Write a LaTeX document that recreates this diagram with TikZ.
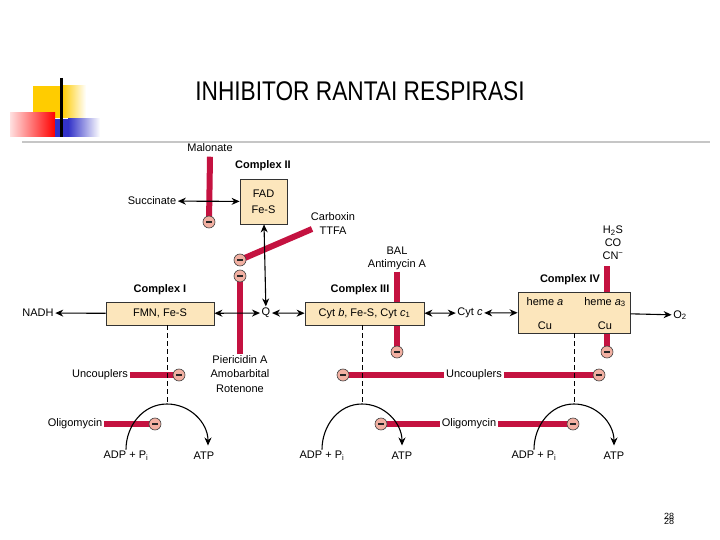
\documentclass[tikz,border=0pt]{standalone}
\usepackage{fontspec}
\setmainfont{Liberation Sans}
\usetikzlibrary{arrows.meta,backgrounds}
\definecolor{barred}{RGB}{196,18,64}
\definecolor{boxtan}{RGB}{252,230,188}
\definecolor{inhpink}{RGB}{242,176,162}
\definecolor{decoyellow}{RGB}{255,204,0}
\definecolor{decoblue}{RGB}{50,50,200}

\begin{document}
\begin{tikzpicture}[x=1pt,y=-1pt,
    every node/.style={font=\fontsize{11}{14}\selectfont},
    txt/.style={inner sep=1.5pt, align=center},
    lbl/.style={font=\fontsize{11}{14}\selectfont\bfseries, inner sep=1pt},
    cbox/.style={draw=black!80, fill=boxtan, line width=0.8pt, inner sep=0pt, align=center},
    redbar/.style={barred, line width=6pt},
    inhib/.style={circle, draw=black!75, fill=inhpink, line width=0.6pt, minimum size=12pt, inner sep=0pt,
        path picture={\draw[line width=1.3pt, black!85] ([xshift=-3pt]path picture bounding box.center) -- ([xshift=3pt]path picture bounding box.center);}},
    link/.style={line width=1.1pt},
    >={Stealth[length=8pt,width=7pt]}]
    \useasboundingbox (0,0) rectangle (720,540);

    % slide decoration
    \fill[decoyellow] (33,86) rectangle (62,118);
    \shade[left color=decoyellow, right color=white] (62,86) rectangle (86,118);
    \shade[left color=red!12, right color=red] (10,113) rectangle (55,137);
    \fill[decoblue] (55,119) rectangle (68,137);
    \shade[left color=decoblue, right color=white] (68,119) rectangle (100,137);
    \draw[line width=3pt] (61,78) -- (61,137);
    \draw[gray!45, line width=2pt] (22,142) -- (710,142);
    \node[font=\fontsize{27}{30}\selectfont] (title) at (360,91) {\scalebox{0.84}[1]{INHIBITOR RANTAI RESPIRASI}};

    % complexes
    \node[cbox, minimum width=47, minimum height=45, font=\fontsize{11}{16}\selectfont] (c2) at (263.5,201.5) {FAD\\Fe-S};
    \node[lbl] (c2lbl) at (263,166) {Complex II};
    \node[cbox, minimum width=108, minimum height=23] (c1) at (160,313.5) {FMN, Fe-S};
    \node[lbl] (c1lbl) at (160,290) {Complex I};
    \node[cbox, minimum width=119, minimum height=23] (c3) at (364.5,313.5) {Cyt \textit{b}, Fe-S, Cyt \textit{c}\textsubscript{1}};
    \node[lbl] (c3lbl) at (360,290) {Complex III};
    \node[cbox, minimum width=112, minimum height=41] (c4) at (574,312.5) {};
    \node[lbl] (c4lbl) at (570,280) {Complex IV};
    \node[txt] (hemea) at (545,302) {heme \textit{a}};
    \node[txt] (hemea3) at (605,302) {heme \textit{a}\textsubscript{3}};
    \node[txt] (cua) at (545,326) {Cu};
    \node[txt] (cub) at (605,326) {Cu};

    % carriers and substrates
    \node[txt] (succ) at (152,201) {Succinate};
    \node[txt] (nadh) at (38,313) {NADH};
    \node[txt] (q) at (266,313) {Q};
    \node[txt] (cytc) at (470,313) {Cyt \textit{c}};
    \node[txt] (o2) at (680,315) {O\textsubscript{2}};
    \draw[link,<->] (succ) -- (c2);
    \draw[link,->] (c1) -- (nadh);
    \draw[link,<->] (c1) -- (q);
    \draw[link,<->] (c2) -- (q);
    \draw[link,<->] (q) -- (c3);
    \draw[link,<->] (c3) -- (cytc);
    \draw[link,<->] (cytc) -- (c4);
    \draw[link,->] (c4) -- (o2);

    % inhibitors
    \node[txt] (malo) at (210,148) {Malonate};
    \node[inhib] (maloI) at (209,222) {};
    \node[txt, font=\fontsize{11}{14}\selectfont] (carb) at (333,224) {Carboxin\\TTFA};
    \coordinate (carbEnd) at (312,229);
    \node[inhib] (carbI) at (240,260) {};
    \node[inhib] (pierI) at (240,276) {};
    \node[txt, font=\fontsize{11}{14.5}\selectfont] (pier) at (240,374) {Piericidin A\\Amobarbital\\Rotenone};
    \node[txt, font=\fontsize{11}{13}\selectfont] (bal) at (397,258.5) {BAL\\Antimycin A};
    \node[inhib] (balI) at (397,352) {};
    \node[txt, font=\fontsize{11}{13}\selectfont] (cyan) at (613,243) {H\textsubscript{2}S\\CO\\CN\textsuperscript{−}};
    \coordinate (cyanEnd) at (607,266);
    \node[inhib] (cyanI) at (607,352) {};

    \node[txt] (unc1) at (100,375) {Uncouplers};
    \node[inhib] (unc1I) at (179,375) {};
    \node[txt] (unc2) at (474,375) {Uncouplers};
    \node[inhib] (unc2a) at (343,375) {};
    \node[inhib] (unc2b) at (599,375) {};
    \node[txt] (oli1) at (75,424) {Oligomycin};
    \node[inhib] (oli1I) at (155,424) {};
    \node[txt] (oli2) at (469,424) {Oligomycin};
    \node[inhib] (oli2a) at (381,424) {};
    \node[inhib] (oli2b) at (573,424) {};

    \begin{scope}[on background layer]
        \draw[redbar] ([yshift=-3pt]malo.south) -- (maloI.center);
        \draw[redbar] (carbEnd) -- (carbI.center);
        \draw[redbar] (pierI.center) -- (pier);
        \draw[redbar] (bal) -- (balI.center);
        \draw[redbar] (cyanEnd) -- (cyanI.center);
        \draw[redbar] (unc1) -- (unc1I.center);
        \draw[redbar] (unc2a.center) -- (unc2);
        \draw[redbar] (unc2) -- (unc2b.center);
        \draw[redbar] (oli1) -- (oli1I.center);
        \draw[redbar] (oli2a.center) -- (oli2);
        \draw[redbar] (oli2) -- (oli2b.center);
    \end{scope}

    % coupling sites
    \coordinate (d1) at (167,404);
    \coordinate (d2) at (362,404);
    \coordinate (d3) at (574,404);
    \draw[dashed, dash pattern=on 5pt off 3pt, line width=0.9pt] (c1.south -| d1) -- (d1);
    \draw[dashed, dash pattern=on 5pt off 3pt, line width=0.9pt] (c3.south -| d2) -- (d2);
    \draw[dashed, dash pattern=on 5pt off 3pt, line width=0.9pt] (c4.south -| d3) -- (d3);

    \node[txt] (adp1) at (126,456) {ADP + P\textsubscript{i}};
    \node[txt] (atp1) at (204,456) {ATP};
    \node[txt] (adp2) at (322,456) {ADP + P\textsubscript{i}};
    \node[txt] (atp2) at (402,456) {ATP};
    \node[txt] (adp3) at (534,456) {ADP + P\textsubscript{i}};
    \node[txt] (atp3) at (614,456) {ATP};
    \draw[link,->] (adp1.north) to[out=90,in=180] (d1) to[out=0,in=90] ([xshift=4pt,yshift=5pt]atp1.north);
    \draw[link,->] (adp2.north) to[out=90,in=180] (d2) to[out=0,in=90] ([yshift=5pt]atp2.north);
    \draw[link,->] (adp3.north) to[out=90,in=180] (d3) to[out=0,in=90] ([yshift=5pt]atp3.north);

    % page number
    \node[font=\fontsize{9}{9}\selectfont, inner sep=0pt] (pg) at (669,516) {28};
    \node[font=\fontsize{9}{9}\selectfont, inner sep=0pt] (pgb) at (669,521) {28};
\end{tikzpicture}
\end{document}
